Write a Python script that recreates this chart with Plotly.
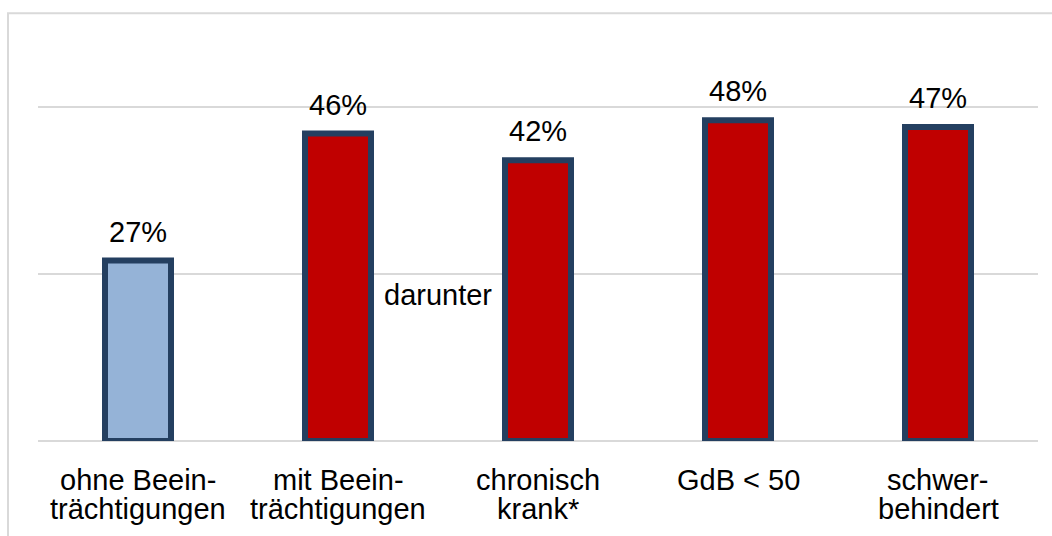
import plotly.graph_objects as go

categories = ["ohne Beein-<br>trächtigungen", "mit Beein-<br>trächtigungen", "chronisch<br>krank*", "GdB < 50", "schwer-<br>behindert"]
label_line1 = ["ohne Beein-", "mit Beein-", "chronisch", "GdB < 50", "schwer-"]
label_line2 = ["trächtigungen", "trächtigungen", "krank*", "", "behindert"]
values = [27, 46, 42, 48, 47]
value_labels = ["27%", "46%", "42%", "48%", "47%"]
bar_colors = ["#95B3D7", "#C00000", "#C00000", "#C00000", "#C00000"]
y_ticks = [0, 25, 50]

FONT = "Liberation Sans, Arial, sans-serif"
FS = 29
x_idx = list(range(len(values)))

fig = go.Figure()
fig.add_trace(go.Bar(
    x=x_idx, y=values,
    marker=dict(color=bar_colors, line=dict(color="#243F60", width=6)),
    hoverinfo="skip", showlegend=False,
))

annotations = []
for i, (v, t) in enumerate(zip(values, value_labels)):
    annotations.append(dict(x=i, y=v, text=t, showarrow=False, xref="x", yref="y",
                            yanchor="bottom", yshift=11,
                            font=dict(family=FONT, size=FS, color="#000000")))
for i, (l1, l2) in enumerate(zip(label_line1, label_line2)):
    annotations.append(dict(x=i, y=0, text=l1, showarrow=False, xref="x", yref="paper",
                            yanchor="top", yshift=-21,
                            font=dict(family=FONT, size=FS, color="#000000")))
    if l2:
        annotations.append(dict(x=i, y=0, text=l2, showarrow=False, xref="x", yref="paper",
                                yanchor="top", yshift=-50,
                                font=dict(family=FONT, size=FS, color="#000000")))
annotations.append(dict(x=1.5, y=21.85, text="darunter", showarrow=False, xref="x", yref="y",
                        yanchor="middle",
                        font=dict(family=FONT, size=FS, color="#000000")))

fig.update_layout(
    width=1052, height=536,
    margin=dict(l=38, r=14, t=40, b=95, pad=0),
    paper_bgcolor="#FFFFFF", plot_bgcolor="#FFFFFF",
    bargap=0.67,
    xaxis=dict(range=[-0.5, 4.5], showticklabels=False, showgrid=False, zeroline=False,
               showline=False, ticks="", fixedrange=True),
    yaxis=dict(range=[0, 60], tickvals=y_ticks, showticklabels=False, showgrid=True,
               gridcolor="#D9D9D9", gridwidth=2, zeroline=True, zerolinecolor="#D9D9D9",
               zerolinewidth=2, showline=False, ticks="", fixedrange=True),
    annotations=annotations,
    shapes=[dict(type="path", xref="paper", yref="paper",
                 path="M -0.030 -0.5 L -0.030 1.0666 L 1.2 1.0666",
                 line=dict(color="#D9D9D9", width=2), layer="below")],
)

fig.write_html("out.html", config={"displayModeBar": False},
               post_script="document.body.style.margin='0';document.body.style.overflow='hidden';")
